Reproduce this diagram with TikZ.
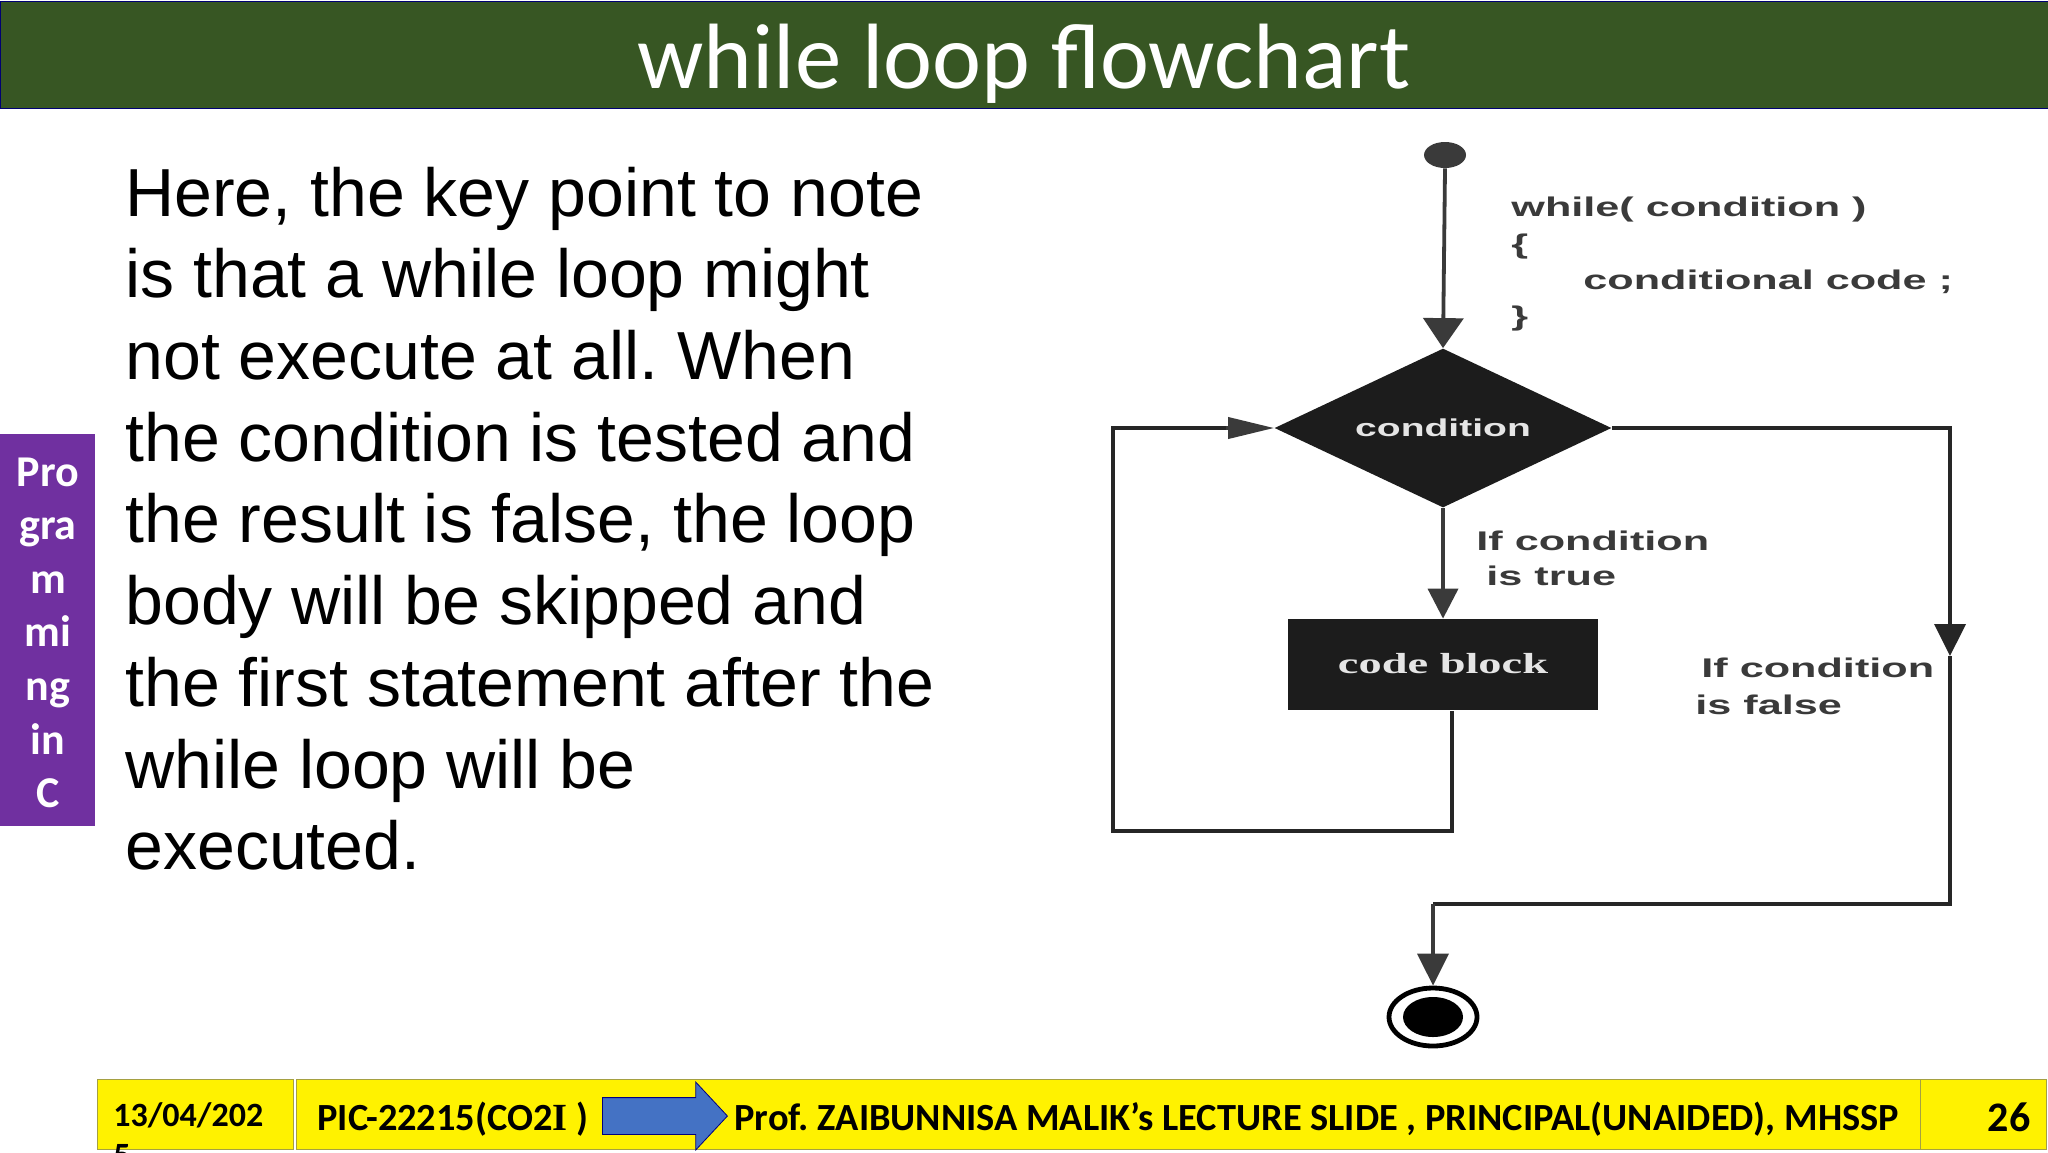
\documentclass[tikz,border=0pt]{standalone}
\usepackage{fontspec}
\setmainfont{Liberation Sans}
\newfontfamily\slidefont{Carlito}
\newfontfamily\codefont{Liberation Serif}
\usepackage{tikz}
\usetikzlibrary{shapes.geometric, shapes.arrows, positioning, arrows.meta}
\definecolor{titlegreen}{HTML}{375623}
\definecolor{sidepurple}{HTML}{7030A0}
\definecolor{arrowblue}{HTML}{4472C4}
\definecolor{inkgrey}{HTML}{3A3A3A}
\definecolor{blockblack}{HTML}{1C1C1C}
\newcommand{\widetext}[1]{\scalebox{1.6}[1]{#1}}
\tikzset{
	footbox/.style={draw=yellow!60!black, line width=0.6pt, fill=yellow, inner sep=0pt},
	foottext/.style={font=\slidefont\bfseries\fontsize{19.2}{22}\selectfont, inner sep=0pt, text=black},
	note/.style={font=\bfseries\fontsize{13.5}{16}\selectfont, text=inkgrey, inner sep=0pt, anchor=west},
	flow/.style={draw=inkgrey, line width=1.9pt},
	loopline/.style={draw=black!85, line width=1.8pt}
}

\begin{document}
\frenchspacing
\begin{tikzpicture}[x=0.5pt, y=-0.5pt]
	\useasboundingbox (0,0) rectangle (2048,1152);
	\fill[white] (0,0) rectangle (2048,1152);

	\node[draw=blue!45!black, line width=0.6pt, fill=titlegreen, minimum width=1024pt, minimum height=53.5pt, inner sep=0pt, anchor=north west] (bar) at (0,1) {};
	\node[text=white, font=\slidefont\fontsize{46.4}{52}\selectfont, inner sep=0pt] (title) at (1024,64) {while loop flowchart};

	\node[fill=sidepurple, minimum width=47.5pt, minimum height=196pt, inner sep=0pt, anchor=north west] (side) at (0,434) {};
	\node[text=white, font=\slidefont\bfseries\fontsize{22}{26.8}\selectfont, align=center, inner sep=0pt, yshift=-1.2pt] (sidetext) at (side.center) {Pro\\gra\\m\\mi\\ng\\in\\C};

	\node[font=\fontsize{34}{40.85}\selectfont, text=black, align=left, inner sep=0pt, anchor=north west] (body) at (125,166.5) {Here, the key point to note\\is that a while loop might\\not execute at all. When\\the condition is tested and\\the result is false, the loop\\body will be skipped and\\the first statement after the\\while loop will be\\executed.};

	\node[footbox, minimum width=98pt, minimum height=35pt, anchor=north west] (datebox) at (97,1079) {};
	\node[footbox, minimum width=812pt, minimum height=35pt, anchor=north west] (mainbox) at (296,1079) {};
	\node[footbox, minimum width=63pt, minimum height=35pt, anchor=north west] (pagebox) at (1920,1079) {};
	\node[foottext, font=\slidefont\bfseries\fontsize{17}{20}\selectfont, align=left, anchor=north west] (date) at (113,1102) {13/04/202\\5};
	\node[foottext, anchor=west] (course) at (317,1119) {PIC-22215(CO2{\codefont I} )};
	\node[single arrow, fill=arrowblue, draw=blue!50!black, line width=0.4pt, inner xsep=0pt, inner ysep=9pt, minimum height=62.5pt, single arrow head extend=7.75pt, single arrow tip angle=94, anchor=west] (footarrow) at (602,1116) {};
	\node[foottext, anchor=west] (lecture) at (734,1119) {Prof. ZAIBUNNISA MALIK’s LECTURE SLIDE , PRINCIPAL(UNAIDED), MHSSP};
	\node[foottext, font=\slidefont\bfseries\fontsize{21}{24}\selectfont] (page) at (2009,1117) {26};

	% flowchart
	\node[ellipse, fill=inkgrey, minimum width=21pt, minimum height=13pt, inner sep=0pt] (start) at (1445,155) {};
	\node[diamond, aspect=2.12, fill=blockblack, minimum width=168.5pt, minimum height=79.5pt, inner sep=0pt, text=white!90!black, font=\bfseries\fontsize{12.2}{15}\selectfont] (cond) at (1443,428) {\widetext{condition}};
	\node[fill=blockblack, minimum width=155pt, minimum height=45.5pt, inner sep=0pt, text=white!90!black, font=\codefont\bfseries\fontsize{14.5}{18}\selectfont] (block) at (1443,664.5) {\raisebox{1.5pt}{\widetext{code block}}\hspace{6pt}};
	\node[ellipse, draw=black, line width=2.4pt, fill=white, minimum width=44pt, minimum height=29pt, inner sep=0pt] (finish) at (1433,1017) {};
	\node[ellipse, fill=black, minimum width=30pt, minimum height=20pt, inner sep=0pt] (finishdot) at (finish.center) {};

	\coordinate (loopa) at (1452,711);
	\coordinate (loopb) at (1452,831);
	\coordinate (loopc) at (1113,428);
	\coordinate (lefttip) at (1226,428);
	\coordinate (falsea) at (1950,656);
	\coordinate (falsetip) at (1950,620);
	\coordinate (falseb) at (1950,904);
	\coordinate (falsec) at (1433,904);

	\draw[flow, -{Triangle[length=15pt, width=20pt]}] (start.south) -- (cond.north);
	\draw[flow, -{Triangle[length=15pt, width=15pt]}] (cond.south) -- (block.north);
	\draw[loopline] (loopa) -- (loopb) -- (loopb -| loopc) -- (loopc) -- (lefttip);
	\draw[flow, -{Triangle[length=23pt, width=10.5pt]}] (lefttip) -- (cond.west);
	\draw[loopline] (cond.east) -| (falsetip);
	\draw[loopline, -{Triangle[length=16pt, width=15.5pt]}] (falsetip) -- (falsea);
	\draw[loopline] (falsea) -- (falseb) -- (falsec);
	\draw[flow, -{Triangle[length=16pt, width=15.5pt]}] (falsec) -- (finish.north);

	\node[note] (codea) at (1511,210) {\widetext{while( condition )}};
	\node[note] (codeb) at (1511,247) {\widetext{\{}};
	\node[note] (codec) at (1583,282) {\widetext{conditional code ;}};
	\node[note] (coded) at (1511,319) {\widetext{\}}};
	\node[note] (truea) at (1476,541) {\widetext{If condition}};
	\node[note] (trueb) at (1486,576) {\widetext{is true}};
	\node[note] (falsetexta) at (1701,668) {\widetext{If condition}};
	\node[note] (falsetextb) at (1695,705) {\widetext{is false}};
\end{tikzpicture}
\end{document}
